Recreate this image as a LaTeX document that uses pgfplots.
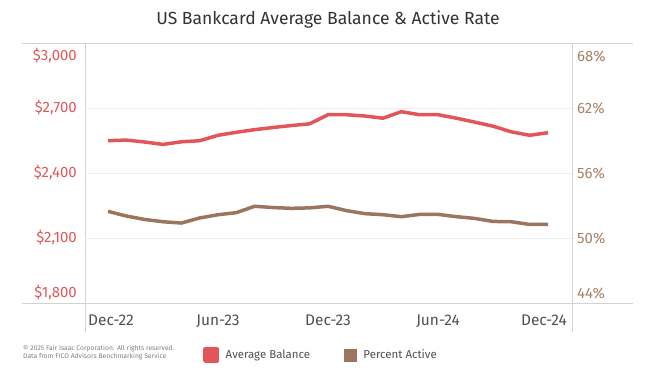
\documentclass[border=0pt]{standalone}
\usepackage{pgfplots}
\pgfplotsset{compat=1.18}
\usepackage{fontspec}
\setmainfont{Fira Sans}
\definecolor{balred}{HTML}{E15759}
\definecolor{actbrown}{HTML}{9C755F}
\definecolor{lblbrown}{HTML}{A88068}
\definecolor{axgray}{HTML}{D2D2D2}
\definecolor{gridgray}{HTML}{EFEFEF}
\definecolor{txtgray}{HTML}{505050}
\definecolor{titlegray}{HTML}{333333}
\pgfplotstableread{
idx bal act
0 2549 52.46
1 2552 52.03
2 2543 51.71
3 2532 51.50
4 2544 51.38
5 2549 51.85
6 2574 52.15
7 2588 52.34
8 2600 52.93
9 2610 52.81
10 2619 52.74
11 2627 52.78
12 2669 52.93
13 2669 52.53
14 2663 52.25
15 2653 52.15
16 2683 51.97
17 2669 52.18
18 2669 52.18
19 2653 51.97
20 2635 51.81
21 2616 51.53
22 2590 51.50
23 2574 51.25
24 2586 51.25
}\datatable
\begin{document}
\begin{tikzpicture}[x=1bp,y=1bp]
\path[use as bounding box] (0,0) rectangle (652,375);
\node[text=titlegray, font=\fontsize{17.6}{19}\selectfont] at (328,355) {US Bankcard Average Balance \& Active Rate};
% frame
\draw[axgray, line width=0.9bp] (22,332) -- (633,332);
\draw[axgray, line width=0.9bp] (22,72) -- (633,72);
\draw[axgray, line width=0.9bp] (85,332) -- (85,43);
\draw[axgray, line width=0.9bp] (572,332) -- (572,43);
\begin{axis}[
  at={(85bp,72bp)}, anchor=south west, scale only axis,
  width=487bp, height=260bp,
  xmin=-1.2545, xmax=25.309,
  ymin=1800, ymax=3000,
  axis line style={draw=none},
  major tick length=0pt,
  xtick={0,6,12,18,24},
  xticklabels={\kern6bp Dec-22,Jun-23,Dec-23,Jun-24,Dec-24\kern8bp},
  xticklabel style={text=txtgray, font=\fontsize{15.5}{16}\selectfont, inner sep=0pt, anchor=north, yshift=-12bp},
  ytick={2100,2400,2700},
  yticklabels={{\$2,100},{\$2,400},{\$2,700}},
  yticklabel style={text=balred, font=\fontsize{15}{16}\selectfont, inner sep=0pt, anchor=east, xshift=-8bp},
  ymajorgrids, grid style={gridgray, line width=0.8bp},
  clip=false,
  legend columns=2,
  legend style={at={(rel axis cs:0.2423,-0.2)}, anchor=west, draw=none, fill=none, inner sep=0pt,
    font=\fontsize{11.5}{12}\selectfont, text=txtgray,
    /tikz/every odd column/.append style={column sep=5bp},
    /tikz/every even column/.append style={column sep=32bp},
    cells={anchor=west}},
  legend image code/.code={\fill[#1] (0bp,-6bp) rectangle (12bp,6bp);},
]
\addplot[balred, line width=3.5bp, line join=round] table[x=idx, y=bal] {\datatable};
\addlegendentry{Average Balance}
\addlegendimage{actbrown, fill=actbrown}
\addlegendentry{Percent Active}
\end{axis}
\begin{axis}[
  at={(85bp,72bp)}, anchor=south west, scale only axis,
  width=487bp, height=260bp,
  xmin=-1.2545, xmax=25.309,
  ymin=44, ymax=68,
  axis line style={draw=none},
  major tick length=0pt,
  xtick=\empty,
  ytick={50,56,62},
  yticklabels={50\%,56\%,62\%},
  yticklabel pos=right,
  yticklabel style={text=lblbrown, font=\fontsize{15}{16}\selectfont, inner sep=0pt, anchor=west, xshift=5bp},
  clip=false,
]
\addplot[actbrown, line width=3.5bp, line join=round] table[x=idx, y=act] {\datatable};
\end{axis}
% end tick labels (inset as in original)
\node[text=balred, font=\fontsize{15}{16}\selectfont, anchor=east, inner sep=0pt] at (77,319) {\$3,000};
\node[text=balred, font=\fontsize{15}{16}\selectfont, anchor=east, inner sep=0pt] at (77,82) {\$1,800};
\node[text=lblbrown, font=\fontsize{15}{16}\selectfont, anchor=west, inner sep=0pt] at (577,319) {68\%};
\node[text=lblbrown, font=\fontsize{15}{16}\selectfont, anchor=west, inner sep=0pt] at (577,82) {44\%};
% copyright
\node[text=gray, font=\fontsize{6.8}{8}\selectfont, anchor=north west, inner sep=0pt, align=left] at (23,30) {\textcopyright{} 2025 Fair Isaac Corporation. All rights reserved.\\Data from FICO Advisors Benchmarking Service};
\end{tikzpicture}
\end{document}
